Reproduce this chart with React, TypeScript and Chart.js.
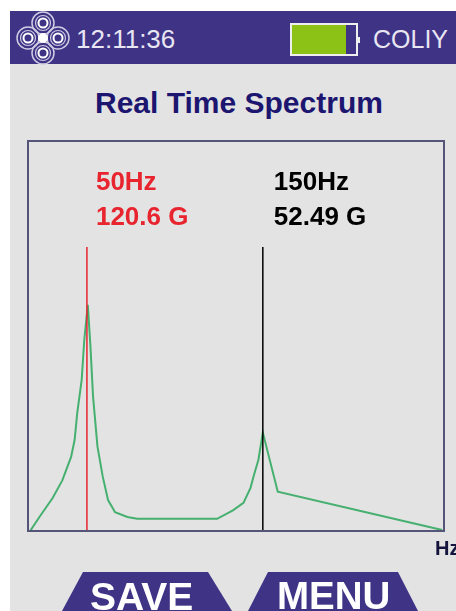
import React, { useEffect, useRef } from "react";
import { Chart, registerables } from "chart.js";

Chart.register(...registerables);

const spectrumHz = [17.7, 23, 30.5, 36, 41, 43, 44.5, 47, 48.5, 50.5, 52, 53.5, 56, 59, 62, 66, 73, 78.5, 124, 133, 139, 143, 145, 147.5, 150, 158.5, 252];
const spectrumG = [0, 7.5, 17.6, 27, 39.5, 48.5, 63, 80.5, 102, 120.6, 98.5, 71.5, 45, 29, 16.5, 10, 7.5, 6.5, 6.5, 11, 15, 23, 30, 38, 52.49, 21, 0.5];
const markerFreqs = [50, 150];
const markerValues = [120.6, 52.49];
const markerColors = ["#e8242e", "#000000"];
const markerTop = 151.5;
const xRange = [16.5, 253];
const yRange = [0, 208];

const font = "'Liberation Sans', Arial, sans-serif";

export default function App() {
  const ref = useRef<HTMLCanvasElement>(null);
  useEffect(() => {
    document.body.style.margin = "0";
    document.documentElement.style.overflow = "hidden";
    const labels = {
      id: "peakLabels",
      afterDraw(chart: any) {
        const c = chart.ctx;
        const { left, top, width, height } = chart.chartArea;
        c.save();
        c.strokeStyle = "#55557a";
        c.lineWidth = 2;
        c.strokeRect(left, top, width, height);
        c.textBaseline = "alphabetic";
        c.font = `bold 26px ${font}`;
        markerFreqs.forEach((f, i) => {
          const x = chart.scales.x.getPixelForValue(f) + (i === 0 ? 9 : 11);
          c.fillStyle = markerColors[i];
          c.fillText(`${f}Hz`, x, 190);
          c.fillText(`${markerValues[i]} G`, x, 225);
        });
        c.restore();
      },
    };
    const chart = new Chart(ref.current!, {
      type: "line",
      data: {
        datasets: [
          ...markerFreqs.map((f, i) => ({
            label: `${f}Hz`,
            data: [{ x: f, y: 0 }, { x: f, y: markerTop }],
            borderColor: markerColors[i],
            borderWidth: 1.5,
            pointRadius: 0,
          })),
          {
            label: "Spectrum",
            data: spectrumHz.map((x, i) => ({ x, y: spectrumG[i] })),
            borderColor: "#45b06f",
            borderWidth: 2,
            pointRadius: 0,
            tension: 0,
          },
        ],
      },
      options: {
        animation: false,
        responsive: false,
        devicePixelRatio: 1,
        layout: { padding: { left: 28, top: 141, right: 12, bottom: 80 } },
        plugins: { legend: { display: false }, tooltip: { enabled: false } },
        scales: {
          x: { type: "linear", min: xRange[0], max: xRange[1], display: false },
          y: { min: yRange[0], max: yRange[1], display: false },
        },
      },
      plugins: [labels],
    } as any);
    return () => chart.destroy();
  }, []);

  const abs = (l: number, t: number): React.CSSProperties => ({ position: "absolute", left: l, top: t, whiteSpace: "nowrap", fontFamily: font, lineHeight: 1 });
  const petal = (cx: number, cy: number) => (
    <g key={`${cx}-${cy}`}>
      <circle cx={cx} cy={cy} r={11} fill="none" stroke="#cfcbe2" strokeWidth={1.5} />
      <circle cx={cx} cy={cy} r={7.5} fill="none" stroke="#cfcbe2" strokeWidth={1.2} />
      <circle cx={cx} cy={cy} r={4.5} fill="#3f3386" stroke="#fff" strokeWidth={2} />
    </g>
  );

  return (
    <div style={{ position: "relative", width: 456, height: 611, overflow: "hidden", background: "#fff" }}>
      <div style={{ position: "absolute", left: 10, top: 11, width: 446, height: 600, background: "#e3e3e3" }} />
      <div style={{ position: "absolute", left: 10, top: 11, width: 446, height: 53, background: "#3f3386" }} />
      <svg style={{ position: "absolute", left: 14, top: 11 }} width={58} height={54}>
        {petal(29, 12)}
        {petal(29, 42)}
        {petal(14, 27)}
        {petal(44, 27)}
        <circle cx={29} cy={27} r={5} fill="#fff" />
      </svg>
      <div style={{ ...abs(76, 26), color: "#e8e6f2", fontSize: 26, width: 110 }}>12:11:36</div>
      <div style={{ position: "absolute", left: 290, top: 23, width: 68, height: 33, border: "2px solid #eeeeee", boxSizing: "border-box" }}>
        <div style={{ position: "absolute", left: 0, top: 0, width: 54, height: 29, background: "#8cc115" }} />
      </div>
      <div style={{ position: "absolute", left: 358, top: 37, width: 2, height: 6, background: "#eeeeee" }} />
      <div style={{ ...abs(373, 27), color: "#e8e6f2", fontSize: 25 }}>COLIY</div>
      <div style={{ ...abs(95, 88), color: "#1c1670", fontSize: 30, fontWeight: 700 }}>Real Time Spectrum</div>
      <canvas ref={ref} width={456} height={611} style={{ position: "absolute", left: 0, top: 0, display: "block" }} />
      <div style={{ ...abs(435, 538), color: "#14143c", fontSize: 20, fontWeight: 700 }}>Hz</div>
      <svg style={{ position: "absolute", left: 0, top: 0 }} width={456} height={611}>
        <polygon points="83,572 208,572 232,611 62,611" fill="#3f3386" />
        <polygon points="268,572 398,572 418,611 248,611" fill="#3f3386" />
      </svg>
      <div style={{ ...abs(90, 577), color: "#fff", fontSize: 39, fontWeight: 700 }}>SAVE</div>
      <div style={{ ...abs(277, 577), color: "#fff", fontSize: 38.5, fontWeight: 700 }}>MENU</div>
    </div>
  );
}
